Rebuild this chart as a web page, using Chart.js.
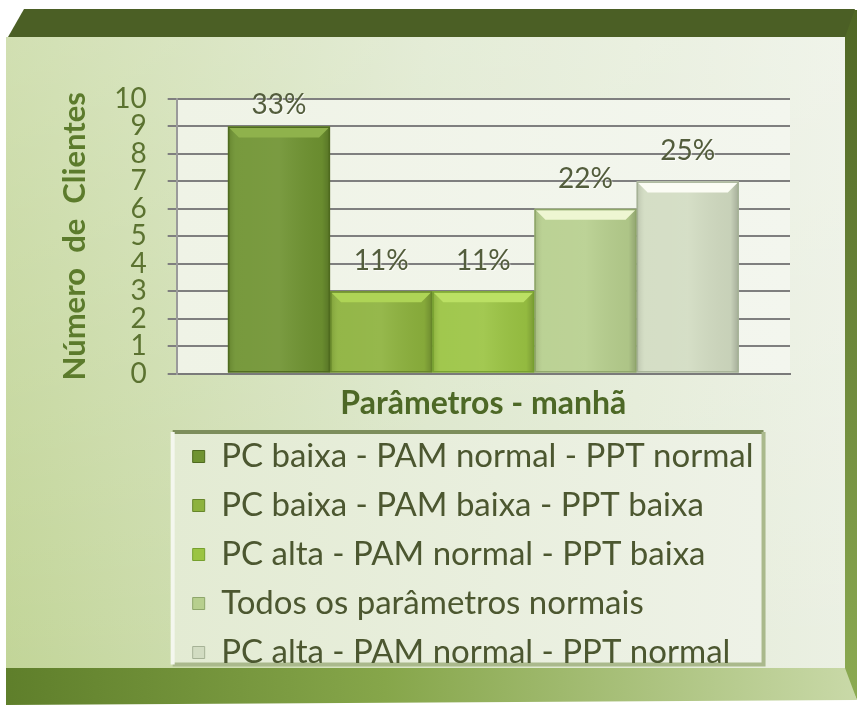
<!DOCTYPE html>
<html>
<head>
<meta charset="utf-8">
<script src="https://cdn.jsdelivr.net/npm/chart.js@4.4.1/dist/chart.umd.min.js"></script>
<style>
  html, body { margin: 0; padding: 0; background: #fff; }
  #wrap { width: 857px; height: 705px; position: relative; }
</style>
</head>
<body>
<div id="wrap"><canvas id="chart" width="857" height="705"></canvas></div>
<script>
// Data
const CATEGORIES   = [''];
const SERIES_NAMES = [
  'PC baixa - PAM normal - PPT normal',
  'PC baixa - PAM baixa - PPT baixa',
  'PC alta - PAM normal - PPT baixa',
  'Todos os parâmetros normais',
  'PC alta - PAM normal - PPT normal'
];
const SERIES_VALUES  = [9, 3, 3, 6, 7];
const PERCENT_LABELS = ['33%', '11%', '11%', '22%', '25%'];
const Y_MIN = 0, Y_MAX = 10, Y_STEP = 1;

// Styles
const BAR_FILL  = ['#6f9331', '#8db23d', '#9bc443', '#b7cf8e', '#d2dcc2'];
const BAR_TOP   = ['#8fb24c', '#aed456', '#bbe064', '#eef6d2', '#fbfcf4'];
const BAR_EDGE  = ['#4e6a1e', '#66862a', '#76a02e', '#8ea66a', '#a6b296'];

const FONT = "Lato, 'Open Sans', sans-serif";
Chart.defaults.font.family = FONT;

// ── Frame / background ───────────────────────────────────────────────────────
const framePlugin = {
  id: 'frame',
  beforeDraw(chart) {
    const { ctx, width, height, chartArea: a } = chart;
    ctx.save();
    ctx.fillStyle = '#ffffff';
    ctx.fillRect(0, 0, width, height);

    // right side face
    let g = ctx.createLinearGradient(0, 10, 0, 700);
    g.addColorStop(0, '#4f6624');
    g.addColorStop(1, '#8cab52');
    ctx.fillStyle = g;
    ctx.beginPath();
    ctx.moveTo(843, 10); ctx.lineTo(857, 10); ctx.lineTo(857, 700); ctx.lineTo(843, 672);
    ctx.closePath(); ctx.fill();

    // top band
    ctx.fillStyle = '#4b5f25';
    ctx.beginPath();
    ctx.moveTo(8, 37); ctx.lineTo(24, 9); ctx.lineTo(855, 9); ctx.lineTo(845, 37);
    ctx.closePath(); ctx.fill();

    // bottom bevel
    g = ctx.createLinearGradient(0, 0, width, 0);
    g.addColorStop(0, '#5e7e2a');
    g.addColorStop(0.45, '#86a64a');
    g.addColorStop(1, '#c9d9a8');
    ctx.fillStyle = g;
    ctx.beginPath();
    ctx.moveTo(6, 668); ctx.lineTo(845, 668); ctx.lineTo(857, 700); ctx.lineTo(6, 705);
    ctx.closePath(); ctx.fill();

    // front face
    g = ctx.createLinearGradient(6, 0, 845, 0);
    g.addColorStop(0, '#c2d598');
    g.addColorStop(0.5, '#dbe6c9');
    g.addColorStop(1, '#ebf0e3');
    ctx.fillStyle = g;
    ctx.fillRect(6, 37, 839, 631);
    g = ctx.createLinearGradient(0, 37, 0, 668);
    g.addColorStop(0, 'rgba(255,255,255,0.25)');
    g.addColorStop(1, 'rgba(255,255,255,0)');
    ctx.fillStyle = g;
    ctx.fillRect(6, 37, 839, 631);

    // plot area
    g = ctx.createLinearGradient(a.left, 0, a.right, 0);
    g.addColorStop(0, '#eff3e6');
    g.addColorStop(1, '#f3f6ee');
    ctx.fillStyle = g;
    ctx.fillRect(a.left, a.top, a.right - a.left, a.bottom - a.top);

    // legend box
    const lg = chart.legend;
    if (lg && lg.options.display) {
      const lab = lg.options.labels;
      const fs = lab.font.size;
      ctx.font = `${fs}px ${FONT}`;
      const maxText = Math.max(...SERIES_NAMES.map(t => ctx.measureText(t).width));
      const x0 = lg.left - 4;
      const y0 = lg.top + 8;
      const x1 = lg.left + lab.padding + lab.boxWidth + fs / 2 + maxText + 10;
      const y1 = lg.top + lab.padding + 4 * (fs + lab.padding) + fs / 2 + 12;
      g = ctx.createLinearGradient(x0, 0, x1, 0);
      g.addColorStop(0, '#e3ebd3');
      g.addColorStop(1, '#eef2e7');
      ctx.fillStyle = g;
      ctx.fillRect(x0, y0, x1 - x0, y1 - y0);
      ctx.lineWidth = 4;
      ctx.strokeStyle = '#7d8e5c';
      ctx.beginPath(); ctx.moveTo(x0, y0); ctx.lineTo(x1, y0); ctx.stroke();
      ctx.strokeStyle = '#aab98c';
      ctx.beginPath(); ctx.moveTo(x1, y0); ctx.lineTo(x1, y1); ctx.lineTo(x0, y1); ctx.stroke();
      ctx.strokeStyle = '#f4f7ee';
      ctx.beginPath(); ctx.moveTo(x0, y1); ctx.lineTo(x0, y0); ctx.stroke();
    }
    ctx.restore();
  }
};

// ── Bar bevels ───────────────────────────────────────────────────────────────
const bevelPlugin = {
  id: 'bevel',
  afterDatasetsDraw(chart) {
    const { ctx } = chart;
    ctx.save();
    chart.data.datasets.forEach((ds, i) => {
      const meta = chart.getDatasetMeta(i);
      meta.data.forEach(bar => {
        const l = bar.x - bar.width / 2, r = bar.x + bar.width / 2;
        const t = bar.y, b = bar.base;
        const bv = Math.min(11, (b - t) / 3);
        // side shading
        const g = ctx.createLinearGradient(l, 0, r, 0);
        g.addColorStop(0, 'rgba(0,0,0,0.12)');
        g.addColorStop(0.08, 'rgba(255,255,255,0.06)');
        g.addColorStop(0.5, 'rgba(255,255,255,0.08)');
        g.addColorStop(0.92, 'rgba(0,0,0,0.05)');
        g.addColorStop(1, 'rgba(0,0,0,0.22)');
        ctx.fillStyle = g;
        ctx.fillRect(l, t, r - l, b - t);
        // top bevel
        ctx.fillStyle = BAR_TOP[i];
        ctx.beginPath();
        ctx.moveTo(l, t); ctx.lineTo(r, t); ctx.lineTo(r - bv, t + bv); ctx.lineTo(l + bv, t + bv);
        ctx.closePath(); ctx.fill();
        // outline
        ctx.strokeStyle = BAR_EDGE[i];
        ctx.lineWidth = 1.5;
        ctx.strokeRect(l + 0.75, t + 0.75, r - l - 1.5, b - t - 1.5);
      });
    });
    ctx.restore();
  }
};

// ── Percentage labels ────────────────────────────────────────────────────────
const pctPlugin = {
  id: 'pct',
  afterDatasetsDraw(chart) {
    const { ctx, chartArea } = chart;
    ctx.save();
    ctx.font = `28px ${FONT}`;
    ctx.textAlign = 'center';
    ctx.textBaseline = 'middle';
    ctx.fillStyle = '#535d3c';
    ctx.shadowColor = 'rgba(255,255,255,0.7)';
    ctx.shadowOffsetX = 1; ctx.shadowOffsetY = 1; ctx.shadowBlur = 1;
    chart.data.datasets.forEach((ds, i) => {
      const bar = chart.getDatasetMeta(i).data[0];
      const y = Math.max(bar.y - 30, chartArea.top + 6);
      ctx.fillText(PERCENT_LABELS[i], bar.x, y);
    });
    ctx.restore();
  }
};

const datasets = SERIES_NAMES.map((name, i) => ({
  label: name,
  data: [SERIES_VALUES[i]],
  backgroundColor: BAR_FILL[i],
  borderWidth: 0,
  barPercentage: 1,
  categoryPercentage: 0.833
}));

new Chart(document.getElementById('chart'), {
  type: 'bar',
  data: { labels: CATEGORIES, datasets },
  plugins: [framePlugin, bevelPlugin, pctPlugin],
  options: {
    responsive: false,
    animation: false,
    layout: { padding: { left: 56, right: 67, top: 99, bottom: 26 } },
    plugins: {
      tooltip: { enabled: false },
      legend: {
        position: 'bottom',
        align: 'start',
        fullSize: false,
        labels: {
          boxWidth: 12,
          boxHeight: 12,
          padding: 16,
          color: '#4c5730',
          font: { size: 33 },
          generateLabels(chart) {
            const items = Chart.defaults.plugins.legend.labels.generateLabels(chart);
            items.forEach((it, i) => {
              it.fillStyle = BAR_FILL[i];
              it.strokeStyle = BAR_EDGE[i];
              it.lineWidth = 1;
            });
            return items;
          }
        }
      }
    },
    scales: {
      x: {
        grid: { display: false },
        border: { display: true, color: '#7a7a7a', width: 2 },
        ticks: { display: false },
        title: {
          display: true,
          text: 'Parâmetros - manhã',
          color: '#4d6826',
          font: { size: 32, weight: 'bold' },
          padding: { top: 3, bottom: 1 }
        }
      },
      y: {
        min: Y_MIN,
        max: Y_MAX,
        ticks: { stepSize: Y_STEP, autoSkip: false, color: '#5b7230', font: { size: 28 }, padding: 21 },
        grid: { color: '#7f7f7f', lineWidth: 2, tickLength: 9 },
        border: { color: '#9a9a9a', width: 2 },
        title: {
          display: true,
          text: 'Número  de  Clientes',
          color: '#5c7b2c',
          font: { size: 31, weight: 'bold' },
          padding: { top: 0, bottom: 0 }
        }
      }
    }
  }
});
</script>
</body>
</html>
